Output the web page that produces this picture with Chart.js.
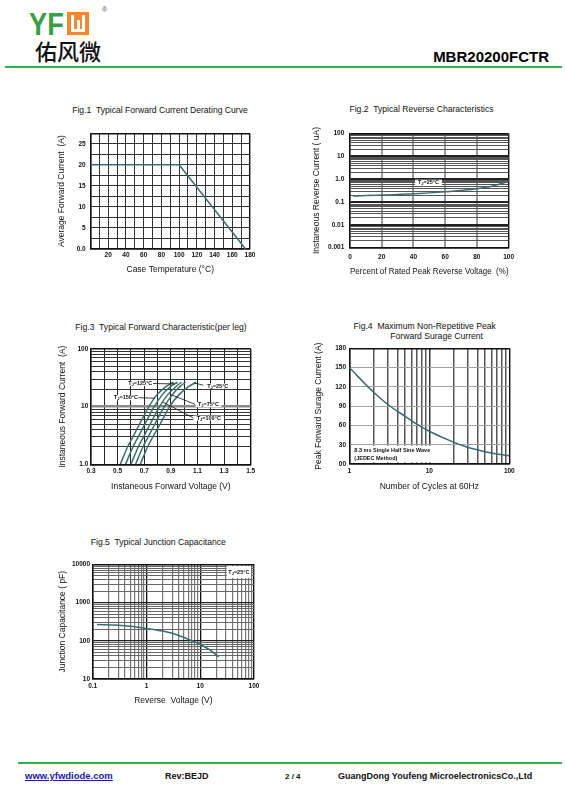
<!DOCTYPE html>
<html>
<head>
<meta charset="utf-8">
<script src="https://cdn.jsdelivr.net/npm/chart.js@4.4.1/dist/chart.umd.min.js"></script>
<style>
  body { margin: 0; width: 567px; height: 805px; position: relative; background: #fff; overflow: hidden;
         font-family: "Liberation Sans", Arial, sans-serif; color: #111; }
  .t { position: absolute; white-space: pre; line-height: 10px; font-size: 8.6px; }
  .c { text-align: center; width: 300px; }
  canvas { position: absolute; }
</style>
</head>
<body>

<!-- header -->
<div style="position:absolute;left:29px;top:8px;font:bold 32px/32px 'Liberation Sans',Arial;color:#3a9e45;transform:scaleX(0.85);transform-origin:left top">YF</div>
<div style="position:absolute;left:67px;top:12px;width:22px;height:23px;background:#ee8a35"></div>
<div style="position:absolute;left:71px;top:15px;width:8px;height:14px;border:3px solid #fff;border-top:none"></div>
<div style="position:absolute;left:76.5px;top:20px;width:3px;height:9px;background:#fff"></div>
<div style="position:absolute;left:102px;top:6px;font-size:7px;color:#555">®</div>
<div style="position:absolute;left:35px;top:39px;font:500 22px/22px 'Noto Sans CJK SC';color:#111">佑风微</div>
<div style="position:absolute;right:18px;top:48.5px;font:bold 15px/16px 'Liberation Sans',Arial;color:#000">MBR20200FCTR</div>
<div style="position:absolute;left:5px;top:66px;width:557px;height:1.5px;background:#3aaa50"></div>

<!-- figure titles -->
<div class="t c" style="left:10px;top:105px">Fig.1  Typical Forward Current Derating Curve</div>
<div class="t c" style="left:271.5px;top:103.5px">Fig.2  Typical Reverse Characteristics</div>
<div class="t c" style="left:11px;top:322.3px">Fig.3  Typical Forward Characteristic(per leg)</div>
<div class="t c" style="left:274.7px;top:320.7px">Fig.4  Maximum Non-Repetitive Peak</div>
<div class="t c" style="left:286.7px;top:330.7px">Forward Surage Current</div>
<div class="t c" style="left:8.3px;top:537.3px">Fig.5  Typical Junction Capacitance</div>

<canvas id="fig1"></canvas>
<canvas id="fig2"></canvas>
<canvas id="fig3"></canvas>
<canvas id="fig4"></canvas>
<canvas id="fig5"></canvas>

<!-- footer -->
<div style="position:absolute;left:18px;top:762px;width:544px;height:1.5px;background:#3aaa50"></div>
<div class="t" style="left:25px;top:771px;font-size:9.5px;font-weight:bold;color:#1a1aa6;text-decoration:underline">www.yfwdiode.com</div>
<div class="t" style="left:165px;top:771px;font-size:9px;font-weight:bold">Rev:BEJD</div>
<div class="t" style="left:285px;top:772px;font-size:8px;font-weight:bold">2 / 4</div>
<div class="t" style="left:338px;top:771px;font-size:9px;font-weight:bold">GuangDong Youfeng MicroelectronicsCo.,Ltd</div>

<script>
// Fig.1 derating curve
const fig1Temp = [0, 100, 175];
const fig1Current = [20, 20, 0];
const fig1XTicks = [20, 40, 60, 80, 100, 120, 140, 160, 180];
const fig1YTicks = [0, 5, 10, 15, 20, 25];
const fig1YLabels = ['0.0', '5', '10', '15', '20', '25'];

// Fig.2 reverse current at Tj = 25 C
const fig2Percent = [2, 10, 20, 30, 40, 50, 60, 70, 80, 90, 100];
const fig2Current = [0.18, 0.19, 0.2, 0.21, 0.23, 0.25, 0.28, 0.32, 0.38, 0.5, 0.8];
const fig2XTicks = [0, 20, 40, 60, 80, 100];
const fig2YTicks = [0.001, 0.01, 0.1, 1, 10, 100];
const fig2YLabels = ['0.001', '0.01', '0.1', '1.0', '10', '100'];

// Fig.3 forward current vs voltage, one array per junction temperature
const fig3Current = [1, 2, 3, 5, 10, 16, 22, 26.5];
const fig3V150 = [0.52, 0.575, 0.615, 0.665, 0.735, 0.795, 0.86, 0.92];
const fig3V125 = [0.56, 0.615, 0.655, 0.705, 0.775, 0.835, 0.895, 0.95];
const fig3V100 = [0.60, 0.655, 0.695, 0.745, 0.815, 0.875, 0.935, 0.98];
const fig3V75 = [0.635, 0.69, 0.73, 0.78, 0.85, 0.91, 0.965, 1.01];
const fig3V25 = [0.67, 0.725, 0.765, 0.82, 0.89, 0.96, 1.03, 1.09];
const fig3XTicks = [0.3, 0.5, 0.7, 0.9, 1.1, 1.3, 1.5];
const fig3XLabels = ['0.3', '0.5', '0.7', '0.9', '1.1', '1.3', '1.5'];
const fig3YTicks = [1, 10, 100];
const fig3YLabels = ['1.0', '10', '100'];

// Fig.4 surge current vs number of cycles
const fig4Cycles = [1, 2, 3, 5, 7, 10, 20, 30, 50, 70, 100];
const fig4Surge = [150, 112, 93, 74, 62, 51, 34, 26, 19, 15.5, 13];
const fig4XTicks = [1, 10, 100];
const fig4XLabels = ['1', '10', '100'];
const fig4YTicks = [0, 30, 60, 90, 120, 150, 180];
const fig4YLabels = ['00', '30', '60', '90', '120', '150', '180'];

// Fig.5 junction capacitance vs reverse voltage
const fig5Voltage = [0.12, 0.3, 0.5, 1, 2, 3, 5, 7, 10, 15, 22];
const fig5Cap = [265, 255, 240, 210, 180, 158, 122, 100, 80, 58, 38];
const fig5XTicks = [0.1, 1, 10, 100];
const fig5XLabels = ['0.1', '1', '10', '100'];
const fig5YTicks = [10, 100, 1000, 10000];
const fig5YLabels = ['10', '100', '1000', '10000'];

const FONT = '"Liberation Sans", Arial, sans-serif';
const TITLE_SIZE = 8.5;
const CURVE = '#3b6e6a';

function near(a, b) { return Math.abs(a - b) <= Math.abs(b) * 1e-6 + 1e-9; }

function steps(a, b, step) {
  const out = [];
  for (let i = 0; a + i * step <= b + 1e-9; i++) out.push(+(a + i * step).toFixed(4));
  return out;
}

// 1..9 in every decade
function logSteps(min, max) {
  const out = [];
  for (let e = Math.round(Math.log10(min)); Math.pow(10, e) <= max * 1.0001; e++) {
    for (let m = 1; m <= 9; m++) {
      const v = +(m * Math.pow(10, e)).toPrecision(3);
      if (v >= min * 0.9999 && v <= max * 1.0001) out.push(v);
    }
  }
  return out;
}
const isDecade = v => near(Math.log10(v), Math.round(Math.log10(v)));

function labeler(values, labels) {
  return v => {
    const i = values.findIndex(d => near(v, d));
    return i < 0 ? '' : (labels ? labels[i] : String(values[i]));
  };
}

function frame(id, box, plot, yTitleX, xTitleY) {
  const c = document.getElementById(id);
  c.style.left = box[0] + 'px';
  c.style.top = box[1] + 'px';
  c.width = box[2];
  c.height = box[3];
  const half = TITLE_SIZE * 1.2 / 2;
  return {
    canvas: c,
    padding: {left: 0, bottom: 0, top: plot[1] - box[1], right: box[0] + box[2] - plot[2]},
    yWidth: plot[0] - box[0],
    xHeight: box[1] + box[3] - plot[3],
    yTitlePad: yTitleX - box[0] - half,
    xTitlePad: box[1] + box[3] - xTitleY - half
  };
}

function axis(f, side, o) {
  const horiz = side === 'x';
  const look = c => {
    const v = c.tick.value;
    if (near(v, c.scale.min) || near(v, c.scale.max)) return ['#111', 1.4];
    return o.major && o.major(v) ? o.majorStyle : o.minorStyle;
  };
  return {
    type: o.type || 'linear',
    min: o.min,
    max: o.max,
    afterBuildTicks: s => { s.ticks = o.grid.map(v => ({value: v})); },
    afterFit: s => { if (horiz) s.height = f.xHeight; else s.width = f.yWidth; },
    grid: {drawTicks: false, color: c => look(c)[0], lineWidth: c => look(c)[1]},
    border: {display: true, color: '#111', width: 1.4},
    ticks: {
      autoSkip: false, maxRotation: 0, minRotation: 0, padding: o.pad, color: '#111',
      font: {family: FONT, size: 6.5, weight: 'bold'},
      callback: labeler(o.ticks, o.labels)
    },
    title: {
      display: true, text: o.title, color: '#111',
      font: {family: FONT, size: TITLE_SIZE},
      padding: horiz ? {top: 0, bottom: f.xTitlePad} : {top: f.yTitlePad, bottom: 0}
    }
  };
}

function series(xs, ys, smooth) {
  return {
    data: xs.map((x, i) => ({x, y: ys[i]})),
    borderColor: CURVE, borderWidth: 1.5, pointRadius: 0, showLine: true, fill: false,
    cubicInterpolationMode: smooth ? 'monotone' : 'default', tension: 0
  };
}

// "TJ=..." with subscript J
function drawTJ(ctx, cx, cy, rest) {
  const big = 'bold 5.5px ' + FONT, small = 'bold 4px ' + FONT;
  ctx.font = big; const wT = ctx.measureText('T').width, wR = ctx.measureText(rest).width;
  ctx.font = small; const wJ = ctx.measureText('J').width;
  let x = cx - (wT + wJ + wR) / 2;
  ctx.textAlign = 'left'; ctx.textBaseline = 'middle';
  ctx.font = big; ctx.fillText('T', x, cy); x += wT;
  ctx.font = small; ctx.fillText('J', x, cy + 1.5); x += wJ;
  ctx.font = big; ctx.fillText(rest, x, cy);
}

const tagPlugin = {
  id: 'tags',
  afterDatasetsDraw(chart, args, opts) {
    const {ctx, scales: {x, y}} = chart;
    ctx.save();
    (opts.leaders || []).forEach(([x1, y1, x2, y2]) => {
      ctx.beginPath();
      ctx.moveTo(x.getPixelForValue(x1), y.getPixelForValue(y1));
      ctx.lineTo(x.getPixelForValue(x2), y.getPixelForValue(y2));
      ctx.strokeStyle = '#111'; ctx.lineWidth = 0.8; ctx.stroke();
    });
    (opts.boxes || []).forEach(b => {
      const l = x.getPixelForValue(b.x0), r = x.getPixelForValue(b.x1);
      const t = y.getPixelForValue(b.y1), bt = y.getPixelForValue(b.y0);
      ctx.fillStyle = '#fff';
      ctx.fillRect(l, t, r - l, bt - t);
      ctx.fillStyle = '#111';
      if (b.tj) {
        drawTJ(ctx, (l + r) / 2, (t + bt) / 2, b.tj);
      } else {
        ctx.font = 'bold 5.5px ' + FONT; ctx.textAlign = 'left'; ctx.textBaseline = 'middle';
        b.lines.forEach((s, i) => ctx.fillText(s, l + 3, t + 5.3 + i * 7.3));
      }
    });
    ctx.restore();
  }
};

function options(f, xs, ys, tags) {
  return {
    responsive: false, maintainAspectRatio: false, animation: false, events: [],
    layout: {padding: f.padding},
    scales: {x: xs, y: ys},
    plugins: {legend: {display: false}, tooltip: {enabled: false}, tags: tags || {}}
  };
}

// Fig.1
const f1 = frame('fig1', [54, 124, 210, 156], [90.5, 133.3, 250, 249], 61.7, 269.3);
new Chart(f1.canvas, {
  type: 'scatter',
  data: {datasets: [series(fig1Temp, fig1Current, false)]},
  options: options(f1,
    axis(f1, 'x', {min: 0, max: 180, grid: steps(0, 180, 10), ticks: fig1XTicks, pad: 2,
      minorStyle: ['#333', 1], title: 'Case Temperature (°C)'}),
    axis(f1, 'y', {min: 0, max: 27.5, grid: steps(0, 27.5, 2.5), ticks: fig1YTicks, labels: fig1YLabels, pad: 4.8,
      minorStyle: ['#333', 1], title: 'Average Forward Current  (A)'})),
  plugins: [tagPlugin]
});

// Fig.2
const f2 = frame('fig2', [306, 124, 214, 156], [350, 133.5, 509.5, 247.5], 316.7, 271.7);
new Chart(f2.canvas, {
  type: 'scatter',
  data: {datasets: [series(fig2Percent, fig2Current, true)]},
  options: options(f2,
    axis(f2, 'x', {min: 0, max: 100, grid: steps(0, 100, 20), ticks: fig2XTicks, pad: 6,
      minorStyle: ['#9a9a9a', 2], title: 'Percent of Rated Peak Reverse Voltage  (%)'}),
    axis(f2, 'y', {type: 'logarithmic', min: 0.001, max: 100, grid: logSteps(0.001, 100),
      ticks: fig2YTicks, labels: fig2YLabels, pad: 5.7, major: isDecade,
      majorStyle: ['#222', 2], minorStyle: ['#555', 1], title: 'Instaneous Reverse Current ( uA)'}),
    {boxes: [{x0: 41, x1: 58, y0: 0.5, y1: 0.95, tj: '=25°C'}]}),
  plugins: [tagPlugin]
});

// Fig.3
const f3 = frame('fig3', [54, 340, 210, 156], [91, 349, 250.7, 464.3], 62.3, 486.7);
new Chart(f3.canvas, {
  type: 'scatter',
  data: {datasets: [
    series(fig3V150, fig3Current, true),
    series(fig3V125, fig3Current, true),
    series(fig3V100, fig3Current, true),
    series(fig3V75, fig3Current, true),
    series(fig3V25, fig3Current, true)
  ]},
  options: options(f3,
    axis(f3, 'x', {min: 0.3, max: 1.5, grid: steps(0.3, 1.5, 0.1), ticks: fig3XTicks, labels: fig3XLabels, pad: 3.5,
      minorStyle: ['#222', 1], title: 'Instaneous Forward Voltage (V)'}),
    axis(f3, 'y', {type: 'logarithmic', min: 1, max: 100, grid: logSteps(1, 100),
      ticks: fig3YTicks, labels: fig3YLabels, pad: 2.7, major: isDecade,
      majorStyle: ['#8a8a8a', 2.5], minorStyle: ['#333', 1], title: 'Instaneous Forward Current  (A)'}),
    {
      leaders: [[0.765, 25.2, 0.93, 24.8], [0.655, 14.3, 0.78, 14], [1.145, 23.5, 1.075, 25.8],
                [1.085, 10.9, 0.905, 16], [1.07, 6.36, 0.84, 12]],
      boxes: [
        {x0: 0.575, x1: 0.765, y0: 22.8, y1: 27.8, tj: '=125°C'},
        {x0: 0.47, x1: 0.655, y0: 12.9, y1: 15.8, tj: '=150°C'},
        {x0: 1.145, x1: 1.36, y0: 20.6, y1: 25.2, tj: '=25°C'},
        {x0: 1.085, x1: 1.28, y0: 9.85, y1: 12.0, tj: '=75°C'},
        {x0: 1.07, x1: 1.30, y0: 5.75, y1: 7.0, tj: '=100°C'}
      ]
    }),
  plugins: [tagPlugin]
});

// Fig.4
const f4 = frame('fig4', [306, 340, 214, 156], [349.3, 348.3, 509.3, 464], 318.3, 486.7);
new Chart(f4.canvas, {
  type: 'scatter',
  data: {datasets: [series(fig4Cycles, fig4Surge, true)]},
  options: options(f4,
    axis(f4, 'x', {type: 'logarithmic', min: 1, max: 100, grid: logSteps(1, 100),
      ticks: fig4XTicks, labels: fig4XLabels, pad: 3.8, major: isDecade,
      majorStyle: ['#333', 1.5], minorStyle: ['#555', 1.5], title: 'Number of Cycles at 60Hz'}),
    axis(f4, 'y', {min: 0, max: 180, grid: steps(0, 180, 30), ticks: fig4YTicks, labels: fig4YLabels, pad: 3.3,
      minorStyle: ['#a0a0a0', 1], title: 'Peak Forward Surage Current (A)'}),
    {boxes: [{x0: 1.06, x1: 11.5, y0: 2.5, y1: 28.5, lines: ['8.3 ms Single Half Sine Wave', '(JEDEC Method)']}]}),
  plugins: [tagPlugin]
});

// Fig.5
const f5 = frame('fig5', [54, 555, 212, 156], [92.7, 564.3, 254, 679], 62.3, 700.7);
new Chart(f5.canvas, {
  type: 'scatter',
  data: {datasets: [series(fig5Voltage, fig5Cap, true)]},
  options: options(f5,
    axis(f5, 'x', {type: 'logarithmic', min: 0.1, max: 100, grid: logSteps(0.1, 100),
      ticks: fig5XTicks, labels: fig5XLabels, pad: 3.8, major: isDecade,
      majorStyle: ['#111', 1.3], minorStyle: ['#777', 1.2], title: 'Reverse  Voltage (V)'}),
    axis(f5, 'y', {type: 'logarithmic', min: 10, max: 10000, grid: logSteps(10, 10000),
      ticks: fig5YTicks, labels: fig5YLabels, pad: 2.7, major: isDecade,
      majorStyle: ['#222', 1.3], minorStyle: ['#666', 1], title: 'Junction Capacitance ( pF)'}),
    {boxes: [{x0: 31, x1: 88, y0: 4400, y1: 9000, tj: '=25°C'}]}),
  plugins: [tagPlugin]
});
</script>
</body>
</html>
